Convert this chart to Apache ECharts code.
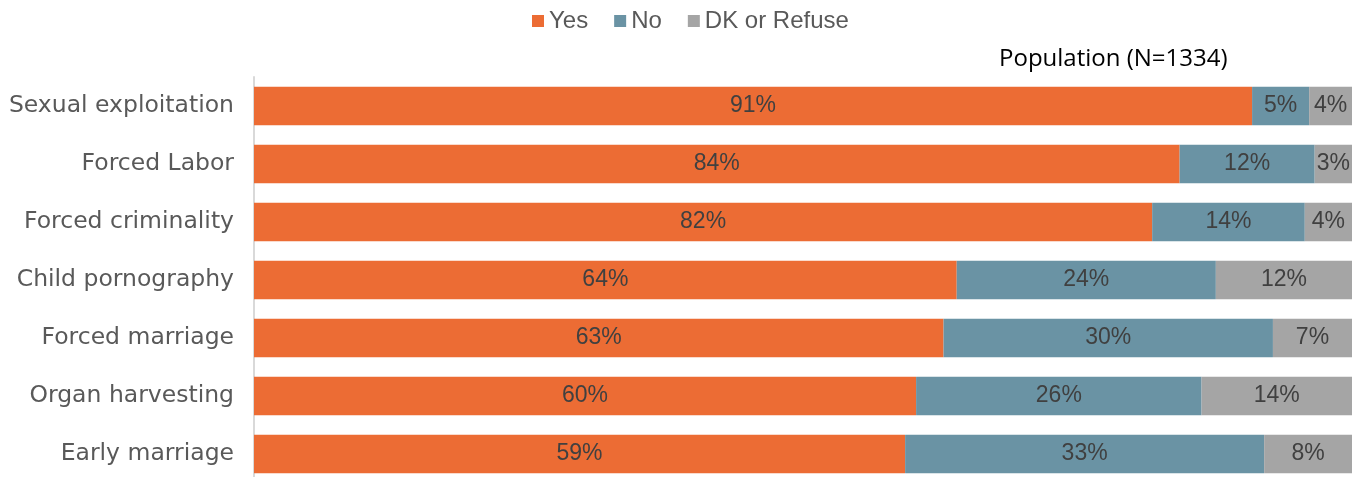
<!DOCTYPE html>
<html><head><meta charset="utf-8">
<script src="https://cdn.jsdelivr.net/npm/echarts@6/dist/echarts.min.js"></script>
<style>html,body{margin:0;padding:0;background:#fff}#c{width:1361px;height:477px}</style>
</head><body><div id="c"></div>
<script>
const categories = ["Sexual exploitation","Forced Labor","Forced criminality","Child pornography","Forced marriage","Organ harvesting","Early marriage"];
const yesValues = [90.9, 84.3, 81.8, 64.0, 62.8, 60.3, 59.3];
const noValues  = [5.2, 12.3, 13.9, 23.6, 30.0, 26.0, 32.7];
const dkValues  = [3.9, 3.4, 4.3, 12.4, 7.2, 13.8, 8.0];
const seriesNames = ["Yes","No","DK or Refuse"];
const colors = ["#EC6C34","#6A93A4","#A5A5A5"];

const chart = echarts.init(document.getElementById('c'));
const lbl = {show:true, position:'inside', color:'#404040', fontSize:23, fontFamily:'Liberation Sans',
  formatter: p => Math.round(p.value) + '%'};
const mk = (name, data, i) => ({name, type:'bar', stack:'t', data, barCategoryGap:'34%',
  itemStyle:{color:colors[i]}, label:lbl, emphasis:{disabled:true}});
chart.setOption({
  animation:false,
  legend:{left:527, top:4, itemWidth:12, itemHeight:12, itemGap:26, icon:'rect',
    textStyle:{fontSize:24, color:'#595959', fontFamily:'Liberation Sans'}},
  title:{text:'Population (N=1334)', left:994, top:42, textStyle:{fontSize:24, fontWeight:'normal', color:'#000', fontFamily:'Open Sans'}},
  grid:{left:254, width:1098, top:77, height:406, containLabel:false, outerBoundsMode:'none'},
  xAxis:{type:'value', min:0, max:100, show:false},
  yAxis:{type:'category', data:categories, inverse:true,
    axisLine:{show:true, lineStyle:{color:'#D9D9D9', width:2}}, axisTick:{show:false},
    axisLabel:{fontSize:23.5, color:'#595959', fontFamily:'DejaVu Sans', margin:20}},
  series:[mk(seriesNames[0], yesValues, 0), mk(seriesNames[1], noValues, 1), mk(seriesNames[2], dkValues, 2)]
});
</script></body></html>
